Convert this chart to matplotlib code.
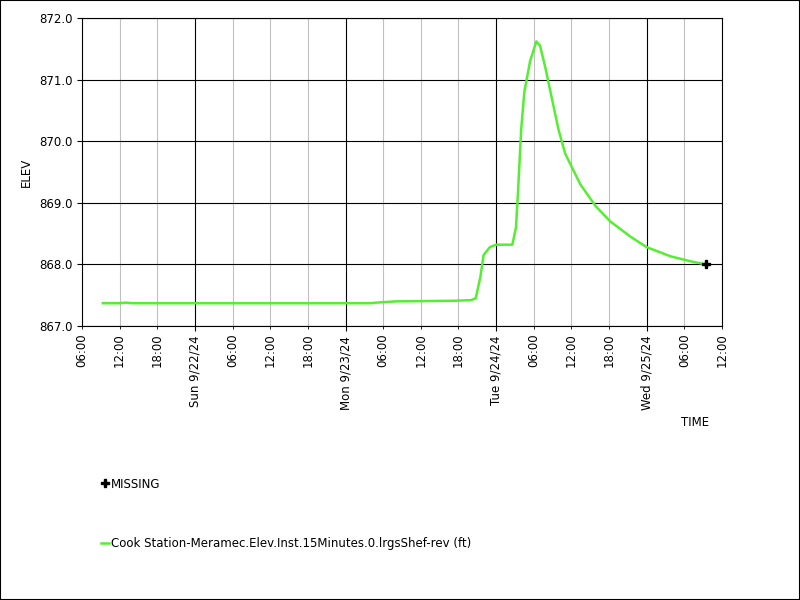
import matplotlib
matplotlib.use("Agg")
import matplotlib.pyplot as plt
import matplotlib.dates as mdates
import pandas as pd
from matplotlib.lines import Line2D

times = ["2024-09-21 09:20","2024-09-21 12:00","2024-09-21 13:00","2024-09-21 14:00","2024-09-23 04:00","2024-09-23 05:00",
         "2024-09-23 08:00","2024-09-23 17:30","2024-09-23 20:00","2024-09-23 20:45","2024-09-23 21:30",
         "2024-09-23 22:00","2024-09-23 23:00","2024-09-24 00:00","2024-09-24 02:35","2024-09-24 03:10",
         "2024-09-24 03:30","2024-09-24 04:00","2024-09-24 04:30","2024-09-24 05:25","2024-09-24 06:25",
         "2024-09-24 07:00","2024-09-24 07:50","2024-09-24 08:40","2024-09-24 09:55","2024-09-24 11:00",
         "2024-09-24 13:25","2024-09-24 15:50","2024-09-24 18:10","2024-09-24 21:25","2024-09-25 00:00",
         "2024-09-25 03:50","2024-09-25 07:00","2024-09-25 09:25"]
elev = [867.37,867.37,867.38,867.37,867.37,867.38,867.40,867.41,867.42,867.45,867.80,868.15,868.28,868.32,868.32,868.6,
        869.2,870.2,870.8,871.3,871.62,871.55,871.2,870.8,870.2,869.8,869.3,868.95,868.7,868.45,868.28,868.13,868.05,868.00]
missing_time = ["2024-09-25 09:25"]
missing_val = [868.0]

t = pd.to_datetime(times)
fig = plt.figure(figsize=(8, 6), dpi=100)
fig.patches.append(plt.Rectangle((0, 0), 1, 1, transform=fig.transFigure, fill=False, ec="black", lw=1.5))
ax = fig.add_axes([82/800, 274/600, 640/800, 308/600])
ax.plot(t, elev, color="#55ee33", lw=1.8)
ax.plot(pd.to_datetime(missing_time), missing_val, marker="P", color="black", ms=5.5, ls="none")
ax.set_xlim(pd.Timestamp("2024-09-21 06:00"), pd.Timestamp("2024-09-25 12:00"))
ax.set_ylim(867, 872)
ax.set_yticks([867, 868, 869, 870, 871, 872])
ax.set_yticklabels([f"{v:.1f}" for v in ax.get_yticks()], fontsize=8.5)
ax.xaxis.set_major_locator(mdates.HourLocator(byhour=[0]))
ax.xaxis.set_minor_locator(mdates.HourLocator(byhour=[6, 12, 18]))
ax.xaxis.set_major_formatter(mdates.DateFormatter("%a %-m/%d/%y"))
ax.xaxis.set_minor_formatter(mdates.DateFormatter("%H:%M"))
ax.tick_params(axis="x", which="both", rotation=90, labelsize=8.5)
ax.grid(True, which="major", color="black", lw=0.8)
ax.grid(True, which="minor", axis="x", color="#c0c0c0", lw=0.8)
ax.set_ylabel("ELEV", fontsize=8.5)
fig.text(695/800, 1-423/600, "TIME", fontsize=8.5, ha="center", va="center")
h1 = Line2D([], [], marker="P", color="black", ls="none", ms=5.5)
h2 = Line2D([], [], color="#55ee33", lw=1.8)
fig.legend([h1], ["MISSING"], loc="center left", bbox_to_anchor=(90/800, 1-484/600), frameon=False, fontsize=8.5, handlelength=0.7, handletextpad=0.2)
fig.legend([h2], ["Cook Station-Meramec.Elev.Inst.15Minutes.0.lrgsShef-rev (ft)"], loc="center left",
           bbox_to_anchor=(90/800, 1-544/600), frameon=False, fontsize=8.5, handlelength=0.7, handletextpad=0.2)
fig.savefig("out.png", dpi=100)
